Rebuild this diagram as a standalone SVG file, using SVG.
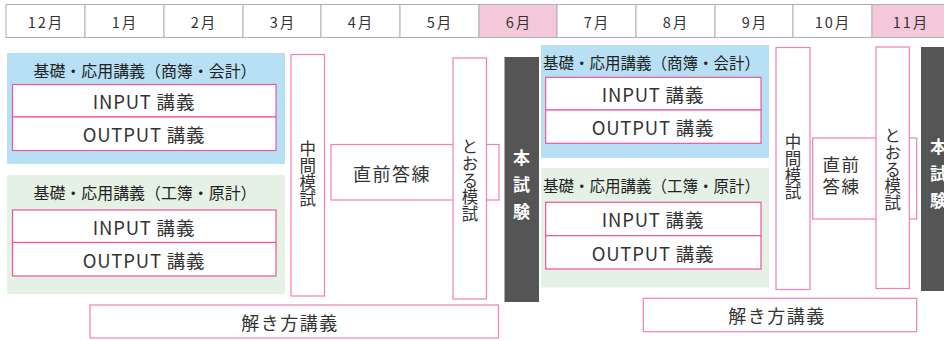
<svg xmlns="http://www.w3.org/2000/svg" width="944" height="341" viewBox="0 0 944 341">
<style>
text{font-family:"Noto Sans CJK JP","Noto Sans",sans-serif;fill:#333;dominant-baseline:central;text-anchor:middle}
.mon{font-size:14.5px;letter-spacing:2px}
.hc{fill:#fff;stroke:#b0b0b0;stroke-width:1}
.hp{fill:#f5c7da;stroke:#b0b0b0;stroke-width:1}
.blue{fill:#b8e0f5}
.green{fill:#e5f1e5}
.pk{fill:#fff;stroke:#e9579d;stroke-width:1.2}
.pl{fill:#fff;stroke:#f07fb5;stroke-width:1.2}
.ttl{font-size:16px;fill:#222}
.io{font-size:18.5px;letter-spacing:0.8px}
.vt{font-size:16.5px;writing-mode:vertical-rl;letter-spacing:0.3px}
.dk{fill:#555}
.ex{fill:#fff;font-size:17px;font-weight:bold;writing-mode:vertical-rl;letter-spacing:10px}
.big{font-size:18px;letter-spacing:1.5px}
.big2{font-size:17.5px;letter-spacing:1.5px}
</style>
<rect width="944" height="341" fill="#fff"/>
<g id="header">
<rect class="hc" x="6" y="4.5" width="79" height="33"/><text class="mon" x="46" y="21.5">12月</text>
<rect class="hc" x="85" y="4.5" width="79" height="33"/><text class="mon" x="125" y="21.5">1月</text>
<rect class="hc" x="164" y="4.5" width="79" height="33"/><text class="mon" x="204" y="21.5">2月</text>
<rect class="hc" x="243" y="4.5" width="78" height="33"/><text class="mon" x="283" y="21.5">3月</text>
<rect class="hc" x="321" y="4.5" width="79" height="33"/><text class="mon" x="361" y="21.5">4月</text>
<rect class="hc" x="400" y="4.5" width="79" height="33"/><text class="mon" x="440" y="21.5">5月</text>
<rect class="hp" x="479" y="4.5" width="78" height="33"/><text class="mon" x="519" y="21.5">6月</text>
<rect class="hc" x="557" y="4.5" width="79" height="33"/><text class="mon" x="597" y="21.5">7月</text>
<rect class="hc" x="636" y="4.5" width="79" height="33"/><text class="mon" x="676" y="21.5">8月</text>
<rect class="hc" x="715" y="4.5" width="78" height="33"/><text class="mon" x="755" y="21.5">9月</text>
<rect class="hc" x="793" y="4.5" width="79" height="33"/><text class="mon" x="833" y="21.5">10月</text>
<rect class="hp" x="872" y="4.5" width="79" height="33"/><text class="mon" x="911" y="21.5">11月</text>
</g>
<g id="course-shobo-1">
<rect class="blue" x="7" y="53" width="278" height="111"/>
<text class="ttl" x="145" y="70" textLength="223" lengthAdjust="spacingAndGlyphs">基礎・応用講義（商簿・会計）</text>
<rect class="pk" x="12.5" y="84.5" width="263.5" height="32.5"/>
<text class="io" x="144" y="101">INPUT 講義</text>
<rect class="pk" x="12.5" y="117" width="263.5" height="33.5"/>
<text class="io" x="144" y="134">OUTPUT 講義</text>
</g>
<g id="course-kobo-1">
<rect class="green" x="7" y="175" width="278" height="119"/>
<text class="ttl" x="145" y="192" textLength="223" lengthAdjust="spacingAndGlyphs">基礎・応用講義（工簿・原計）</text>
<rect class="pk" x="12.5" y="210" width="263.5" height="32.5"/>
<text class="io" x="144" y="226.5">INPUT 講義</text>
<rect class="pk" x="12.5" y="242.5" width="263.5" height="33.5"/>
<text class="io" x="144" y="259.5">OUTPUT 講義</text>
</g>
<g id="chukan-1">
<rect class="pl" x="291" y="54.5" width="33.5" height="241.5"/>
<text class="vt" x="307.7" y="174">中間模試</text>
</g>
<g id="chokuzen-1">
<rect class="pl" x="331" y="144.5" width="168" height="55.5"/>
<text class="big" x="392" y="172.5">直前答練</text>
</g>
<g id="toru-1">
<rect class="pl" x="453" y="58" width="33.5" height="241"/>
<text class="vt" x="470" y="180.5">とおる模試</text>
</g>
<g id="exam-1">
<rect class="dk" x="504.5" y="57" width="34.5" height="245"/>
<text class="ex" x="521.5" y="190">本試験</text>
</g>
<g id="tokikata-1">
<rect class="pl" x="90" y="305" width="408.5" height="33"/>
<text class="big" x="290" y="321.5">解き方講義</text>
</g>
<g id="course-shobo-2">
<rect class="blue" x="541" y="45" width="228" height="113"/>
<text class="ttl" x="651.5" y="61.5" textLength="217" lengthAdjust="spacingAndGlyphs">基礎・応用講義（商簿・会計）</text>
<rect class="pk" x="545.7" y="77.3" width="215.3" height="32.7"/>
<text class="io" x="653" y="94">INPUT 講義</text>
<rect class="pk" x="545.7" y="110" width="215.3" height="33.3"/>
<text class="io" x="653" y="127">OUTPUT 講義</text>
</g>
<g id="course-kobo-2">
<rect class="green" x="541" y="168" width="228" height="119.5"/>
<text class="ttl" x="651.5" y="185" textLength="217" lengthAdjust="spacingAndGlyphs">基礎・応用講義（工簿・原計）</text>
<rect class="pk" x="545.7" y="202.3" width="215.3" height="33.4"/>
<text class="io" x="653" y="219">INPUT 講義</text>
<rect class="pk" x="545.7" y="235.7" width="215.3" height="33.3"/>
<text class="io" x="653" y="252.5">OUTPUT 講義</text>
</g>
<g id="chukan-2">
<rect class="pl" x="776" y="47.5" width="34" height="242"/>
<text class="vt" x="793" y="167">中間模試</text>
</g>
<g id="chokuzen-2">
<rect class="pl" x="812.7" y="138" width="104" height="81"/>
<text class="big2" x="841.5" y="162.5"><tspan x="841.5" y="162.5">直前</tspan><tspan x="841.5" y="185">答練</tspan></text>
</g>
<g id="toru-2">
<rect class="pl" x="876" y="47" width="33.3" height="241.5"/>
<text class="vt" x="892.7" y="169.5">とおる模試</text>
</g>
<g id="exam-2">
<rect class="dk" x="921" y="47" width="35" height="244"/>
<text class="ex" x="938.5" y="179">本試験</text>
</g>
<g id="tokikata-2">
<rect class="pl" x="643.3" y="298.3" width="273.4" height="33.4"/>
<text class="big" x="777" y="315">解き方講義</text>
</g>
<g id="connectors"/>
</svg>
